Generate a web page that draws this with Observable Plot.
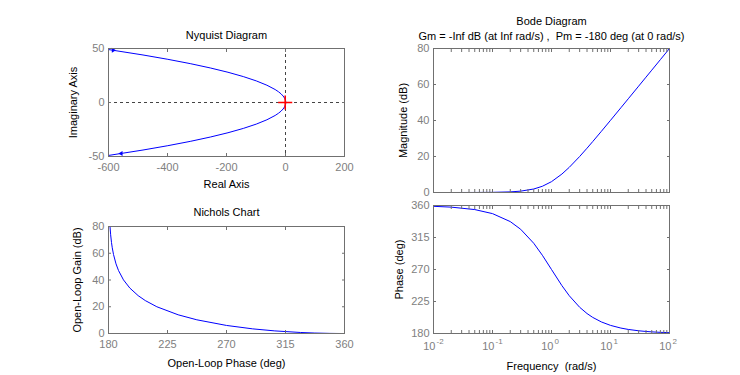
<!DOCTYPE html>
<html><head><meta charset="utf-8">
<script src="https://cdn.jsdelivr.net/npm/d3@7"></script>
<script src="https://cdn.jsdelivr.net/npm/@observablehq/plot@0.6"></script>
<style>
body{margin:0;background:#fff;}
#wrap{position:relative;width:740px;height:375px;overflow:hidden;background:#fff;}
#wrap > svg{position:absolute;overflow:visible;}
svg text{white-space:pre;}
</style></head><body><div id="wrap"></div>
<script>
// ---- data ----
const freq     = [0.01, 0.02, 0.05, 0.1, 0.2, 0.3, 0.5, 0.7, 1, 1.5, 2, 3, 4, 5, 7, 10, 15, 20, 30, 40, 50, 70, 100];
const magDb    = [0.0, 0.0, 0.02, 0.09, 0.34, 0.75, 1.94, 3.46, 6.02, 10.24, 13.98, 20.0, 24.61, 28.3, 33.98, 40.09, 47.08, 52.06, 59.09, 64.09, 67.96, 73.81, 80.0];
const phaseDeg = [358.85, 357.71, 354.28, 348.58, 337.38, 326.6, 306.87, 290.02, 270.0, 247.38, 233.13, 216.87, 208.07, 202.62, 196.26, 191.42, 187.63, 185.72, 183.82, 182.86, 182.29, 181.64, 181.15];

const nyqRe      = [1, 0.94, 0.75, 0, -3, -8, -15, -24, -35, -63, -99, -143, -195, -255, -323, -399, -483, -599.25];
const nyqImUpper = [0, 0.5, 1, 2, 4, 6, 8, 10, 12, 16, 20, 24, 28, 32, 36, 40, 44, 49];
const nyqImLower = [0, -0.5, -1, -2, -4, -6, -8, -10, -12, -16, -20, -24, -28, -32, -36, -40, -44, -49];
const nyqArrowRe = [-584, -557];
const nyqArrowIm = [48.4, -47.2];
const nyqArrowDir = [90, -90];
const criticalRe = [-1];
const criticalIm = [0];

const nyqXTicks = [-600, -400, -200, 0, 200];
const nyqYTicks = [-50, 0, 50];
const nicXTicks = [180, 225, 270, 315, 360];
const nicYTicks = [0, 20, 40, 60, 80];
const magYTicks = [0, 20, 40, 60, 80];
const phaseYTicks = [180, 225, 270, 315, 360];
const freqTicks = [0.01, 0.1, 1, 10, 100];
const freqTickExp = ["-2", "-1", "0", "1", "2"];
const freqMinor = [0.02,0.03,0.04,0.05,0.06,0.07,0.08,0.09,0.2,0.3,0.4,0.5,0.6,0.7,0.8,0.9,2,3,4,5,6,7,8,9,20,30,40,50,60,70,80,90];

// ---- styling ----
const FONT = "'Liberation Sans', Arial, Helvetica, sans-serif";
const frameColor = "#707070";
const tickText = "#808080";
const blue = "#0000ff";
const wrap = document.getElementById("wrap");

function boxMarks(xTicks, yTicks, xMinor) {
  const m = [Plot.frame({stroke: frameColor})];
  for (const anchor of ["bottom", "top"]) {
    m.push(Plot.axisX({anchor, ticks: xTicks, tickSize: -3, fill: "none", stroke: frameColor, label: null}));
    if (xMinor) m.push(Plot.axisX({anchor, ticks: xMinor, tickSize: -3, fill: "none", stroke: frameColor, label: null}));
  }
  for (const anchor of ["left", "right"]) {
    m.push(Plot.axisY({anchor, ticks: yTicks, tickSize: -3, fill: "none", stroke: frameColor, label: null}));
  }
  return m;
}
function xLabels(ticks, pad) {
  return Plot.axisX({anchor: "bottom", ticks, tickSize: 0, tickPadding: pad, fill: tickText, label: null, tickFormat: d => String(d)});
}
function yLabels(ticks) {
  return Plot.axisY({anchor: "left", ticks, tickSize: 0, tickPadding: 4, fill: tickText, label: null, tickFormat: d => String(d)});
}
function yTitle(t, dx) {
  return Plot.text([t], {frameAnchor: "left", dx, rotate: -90, textAnchor: "middle", lineAnchor: "middle", fill: "black"});
}
function place(svg, left, top) {
  svg.style.position = "absolute";
  svg.style.left = left + "px";
  svg.style.top = top + "px";
  svg.style.maxWidth = "none";
  wrap.appendChild(svg);
}
const common = {style: {fontFamily: FONT, fontSize: "11px", background: "white", overflow: "visible"}};

// ---- Nyquist ----
const nyq = Plot.plot({
  ...common, width: 370, height: 200,
  marginTop: 48, marginRight: 26, marginBottom: 44, marginLeft: 108,
  x: {domain: [-600, 200]}, y: {domain: [-50, 50]},
  marks: [
    Plot.ruleX([0], {stroke: "#444", strokeDasharray: "3,3"}),
    Plot.ruleY([0], {stroke: "#444", strokeDasharray: "3,3"}),
    Plot.line(nyqRe, {x: d => d, y: (d, i) => nyqImUpper[i], stroke: blue, strokeWidth: 1, clip: true}),
    Plot.line(nyqRe, {x: d => d, y: (d, i) => nyqImLower[i], stroke: blue, strokeWidth: 1, clip: true}),
    Plot.dot(nyqArrowRe, {x: d => d, y: (d, i) => nyqArrowIm[i], rotate: (d, i) => nyqArrowDir[i], symbol: "triangle", r: 1.8, fill: blue, stroke: "none"}),
    Plot.dot(criticalRe, {x: d => d, y: (d, i) => criticalIm[i], symbol: "plus", r: 4.6, stroke: "red", strokeWidth: 1.6, fill: "none"}),
    ...boxMarks(nyqXTicks, nyqYTicks),
    xLabels(nyqXTicks, 6.5), yLabels(nyqYTicks),
    Plot.text(["Nyquist Diagram"], {frameAnchor: "top", dy: -13, lineAnchor: "middle", fill: "black"}),
    Plot.text(["Real Axis"], {frameAnchor: "bottom", dy: 27.5, lineAnchor: "middle", fill: "black"}),
    yTitle("Imaginary Axis", -35)
  ]
});
place(nyq, 0, 0);

// ---- Nichols ----
const nic = Plot.plot({
  ...common, width: 370, height: 175,
  marginTop: 26, marginRight: 26, marginBottom: 42, marginLeft: 108,
  x: {domain: [180, 360]}, y: {domain: [0, 80]},
  marks: [
    Plot.line(phaseDeg, {x: d => d, y: (d, i) => magDb[i], stroke: blue, strokeWidth: 1, clip: true}),
    ...boxMarks(nicXTicks, nicYTicks),
    xLabels(nicXTicks, 7), yLabels(nicYTicks),
    Plot.text(["Nichols Chart"], {frameAnchor: "top", dy: -14, lineAnchor: "middle", fill: "black"}),
    Plot.text(["Open-Loop Phase (deg)"], {frameAnchor: "bottom", dy: 30, lineAnchor: "middle", fill: "black"}),
    yTitle("Open-Loop Gain (dB)", -31)
  ]
});
place(nic, 0, 200);

// ---- Bode magnitude ----
const mag = Plot.plot({
  ...common, width: 370, height: 198,
  marginTop: 48, marginRight: 71, marginBottom: 6, marginLeft: 63,
  x: {type: "log", domain: [0.01, 100]}, y: {domain: [0, 80]},
  marks: [
    Plot.ruleY([0], {stroke: "black", strokeDasharray: "3,3"}),
    Plot.line(freq, {x: d => d, y: (d, i) => magDb[i], stroke: blue, strokeWidth: 1, clip: true}),
    ...boxMarks(freqTicks, magYTicks, freqMinor),
    yLabels(magYTicks),
    Plot.text(["Bode Diagram"], {frameAnchor: "top", dy: -27, lineAnchor: "middle", fill: "black"}),
    Plot.text(["Gm = -Inf dB (at Inf rad/s) ,  Pm = -180 deg (at 0 rad/s)"], {frameAnchor: "top", dy: -12.5, lineAnchor: "middle", fill: "black"}),
    yTitle("Magnitude (dB)", -30)
  ]
});
place(mag, 370, 0);

// ---- Bode phase ----
const ph = Plot.plot({
  ...common, width: 370, height: 177,
  marginTop: 7, marginRight: 71, marginBottom: 42, marginLeft: 63,
  x: {type: "log", domain: [0.01, 100]}, y: {domain: [180, 360]},
  marks: [
    Plot.line(freq, {x: d => d, y: (d, i) => phaseDeg[i], stroke: blue, strokeWidth: 1, clip: true}),
    ...boxMarks(freqTicks, phaseYTicks, freqMinor),
    yLabels(phaseYTicks),
    Plot.text(freqTicks, {x: d => d, text: () => "10", frameAnchor: "bottom", textAnchor: "end", dx: 2, dy: 13, lineAnchor: "middle", fill: tickText}),
    Plot.text(freqTicks, {x: d => d, text: (d, i) => freqTickExp[i], frameAnchor: "bottom", textAnchor: "start", dx: 3, dy: 8, fontSize: 8, lineAnchor: "middle", fill: tickText}),
    Plot.text(["Frequency  (rad/s)"], {frameAnchor: "bottom", dy: 33, lineAnchor: "middle", fill: "black"}),
    yTitle("Phase (deg)", -34.5)
  ]
});
place(ph, 370, 198);
</script>
</body></html>
